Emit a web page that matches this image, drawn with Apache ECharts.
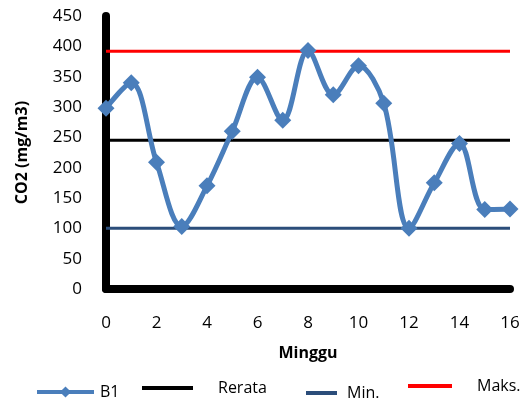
<!DOCTYPE html>
<html>
<head>
<meta charset="utf-8">
<script src="https://cdn.jsdelivr.net/npm/echarts@6/dist/echarts.min.js"></script>
<style>
  html, body { margin: 0; padding: 0; background: #fff; }
  #chart { width: 527px; height: 406px; }
</style>
</head>
<body>
<div id="chart"></div>
<script>
// Weekly CO2 concentration (mg/m3) at B1 with reference levels
const weeks = [0, 1, 2, 3, 4, 5, 6, 7, 8, 9, 10, 11, 12, 13, 14, 15, 16];
const b1 = [298, 340, 209, 103, 170, 260, 349, 278, 393, 320, 368, 306, 100, 175, 240, 131, 132];
const rerata = 245;
const minVal = 100;
const maksVal = 392;

const FONT = '"Open Sans", "Liberation Sans", sans-serif';

function flat(v) {
  return weeks.map(w => [w, v]);
}

const chart = echarts.init(document.getElementById('chart'), null, { renderer: 'canvas' });

// one legend block per series so each entry can sit where it belongs
function legendAt(name, left, top, itemWidth, itemHeight, textLeft, icon) {
  const item = icon ? { name: name, icon: icon } : { name: name };
  return {
    data: [item],
    left: left,
    top: top,
    itemWidth: itemWidth,
    itemHeight: itemHeight,
    itemGap: 0,
    padding: 0,
    lineStyle: { width: 4 },
    textStyle: {
      fontFamily: FONT, fontSize: 16, color: '#000',
      padding: [0, 0, 0, textLeft]
    }
  };
}

const axisLineStyle = { show: true, onZero: false, lineStyle: { color: '#000', width: 8 } };

chart.setOption({
  animation: false,
  backgroundColor: '#fff',
  grid: { left: 106, right: 17, top: 16, bottom: 117, containLabel: false },
  xAxis: {
    type: 'value',
    min: 0, max: 16, interval: 2,
    name: 'Minggu',
    nameLocation: 'middle',
    nameGap: 56,
    nameTextStyle: { fontFamily: FONT, fontSize: 16, fontWeight: 'bold', color: '#000' },
    axisLine: axisLineStyle,
    axisTick: { show: false },
    axisLabel: { fontFamily: FONT, fontSize: 17, color: '#000', margin: 26 },
    splitLine: { show: false }
  },
  yAxis: {
    type: 'value',
    min: 0, max: 450, interval: 50,
    name: 'CO2 (mg/m3)',
    nameLocation: 'middle',
    nameGap: 76,
    nameRotate: 90,
    nameTextStyle: { fontFamily: FONT, fontSize: 16, fontWeight: 'bold', color: '#000' },
    axisLine: axisLineStyle,
    axisTick: { show: false },
    axisLabel: { fontFamily: FONT, fontSize: 17, color: '#000', margin: 24 },
    splitLine: { show: false }
  },
  legend: [
    legendAt('B1', 35, 384, 57, 14, 1, null),
    legendAt('Rerata', 142, 380, 51, 4, 20, 'rect'),
    legendAt('Min.', 306, 385, 31, 4, 5, 'rect'),
    legendAt('Maks.', 408, 378, 44, 4, 20, 'rect')
  ],
  series: [
    {
      name: 'Rerata', type: 'line', data: flat(rerata), symbol: 'none',
      lineStyle: { color: '#000', width: 3 }, itemStyle: { color: '#000' }, z: 2
    },
    {
      name: 'Min.', type: 'line', data: flat(minVal), symbol: 'none',
      lineStyle: { color: '#2b4d7a', width: 3 }, itemStyle: { color: '#2b4d7a' }, z: 2
    },
    {
      name: 'Maks.', type: 'line', data: flat(maksVal), symbol: 'none',
      lineStyle: { color: '#ff0000', width: 3 }, itemStyle: { color: '#ff0000' }, z: 2
    },
    {
      name: 'B1', type: 'line',
      data: weeks.map((w, i) => [w, b1[i]]),
      smooth: 0.35,
      symbol: 'diamond', symbolSize: 17,
      lineStyle: { color: '#4a7ebb', width: 5 },
      itemStyle: { color: '#4a7ebb' },
      z: 3
    }
  ]
});
</script>
</body>
</html>
